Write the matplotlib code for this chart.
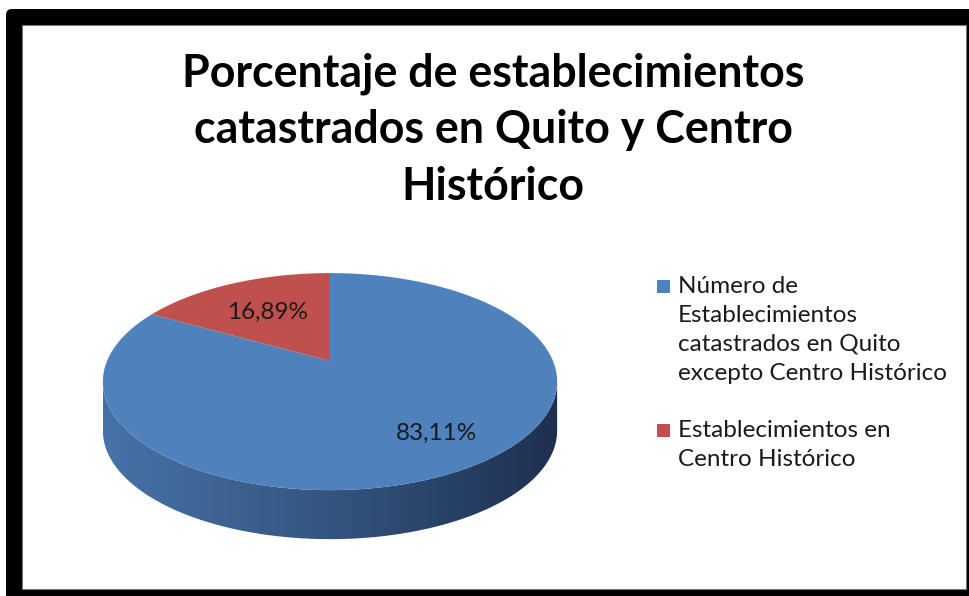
import numpy as np
import matplotlib.pyplot as plt
from matplotlib.patches import Polygon, Rectangle, FancyBboxPatch
from matplotlib.colors import LinearSegmentedColormap

plt.rcParams['font.family'] = ['Lato', 'DejaVu Sans']

# data
labels = ["Número de\nEstablecimientos\ncatastrados en Quito\nexcepto Centro Histórico",
          "Establecimientos en\nCentro Histórico"]
values = [83.11, 16.89]
pct_text = ["83,11%", "16,89%"]
colors = ["#4F81BD", "#C0504D"]
title = "Porcentaje de establecimientos\ncatastrados en Quito y Centro\nHistórico"

# pie geometry (pixels), simple perspective: back of the disc looks smaller
cx, cy = 330, 361
A, B = 223, 104.6
k = 0.19
depth = 49
# label placement as fraction of radii (x, y)
lab_frac = [(0.948, 0.80), (0.549, 0.543)]


def proj(t, r=1.0, dy=0):
    s = 1.0 / (1.0 + k * r * np.sin(t))
    return cx + A * r * np.cos(t) * s, cy + dy - B * r * np.sin(t) * s


def arc(t0, t1, n=240, dy=0):
    t = np.radians(np.linspace(t0, t1, n))
    x, y = proj(t, dy=dy)
    return np.column_stack([x, y])


fig = plt.figure(figsize=(9.7, 5.96), dpi=100)
ax = fig.add_axes([0, 0, 1, 1])
ax.set_xlim(0, 970)
ax.set_ylim(596, 0)
ax.axis('off')

# black frame
ax.add_patch(FancyBboxPatch((6, 9), 980, 600, boxstyle="round,pad=0,rounding_size=6",
                            facecolor="black", edgecolor="none"))
ax.add_patch(Rectangle((22, 25), 944, 564, facecolor="white", edgecolor="#777777", lw=0.8))

ax.text(493, 130, title, ha='center', va='center', fontsize=32.2, fontweight='bold',
        linespacing=1.42, color='black')

# slice angles: start at 12 o'clock, clockwise
start = 90.0
angles = []
for v in values:
    sweep = 360.0 * v / sum(values)
    angles.append((start - sweep, start))
    start -= sweep

# side of the pie (front half only, belongs to first slice)
te = np.degrees(np.arcsin(k))
top = arc(180 + te, 360 - te)
bot = arc(360 - te, 180 + te, dy=depth)
side = Polygon(np.vstack([top, bot]), closed=True, facecolor='none', edgecolor='none')
ax.add_patch(side)
cmap = LinearSegmentedColormap.from_list("side", ["#4772A8", "#33557F", "#1E3050"])
grad = np.linspace(0, 1, 256).reshape(1, -1)
x0, x1 = top[:, 0].min(), top[:, 0].max()
im = ax.imshow(grad, cmap=cmap, aspect='auto',
               extent=[x0, x1, cy + 250, cy - 50], zorder=2)
im.set_clip_path(side)

# top faces
for (t0, t1), c in zip(angles, colors):
    pts = np.vstack([[cx, cy], arc(t0, t1)])
    ax.add_patch(Polygon(pts, closed=True, facecolor=c, edgecolor='none', zorder=3))

# percentage labels
for (t0, t1), txt, (fx, fy) in zip(angles, pct_text, lab_frac):
    tm = np.radians((t0 + t1) / 2)
    ax.text(cx + fx * A * np.cos(tm), cy - fy * B * np.sin(tm), txt, ha='center', va='center',
            fontsize=17.5, color='#1a1a1a', zorder=4)

# legend
leg_y = [280, 424]
for y, c, lab in zip(leg_y, colors, labels):
    ax.add_patch(Rectangle((657, y), 13, 13, facecolor=c, edgecolor='none'))
    ax.text(678, y - 4, lab, ha='left', va='top', fontsize=17.5, color='#1a1a1a',
            linespacing=1.47)

fig.savefig("out.png", dpi=100)
